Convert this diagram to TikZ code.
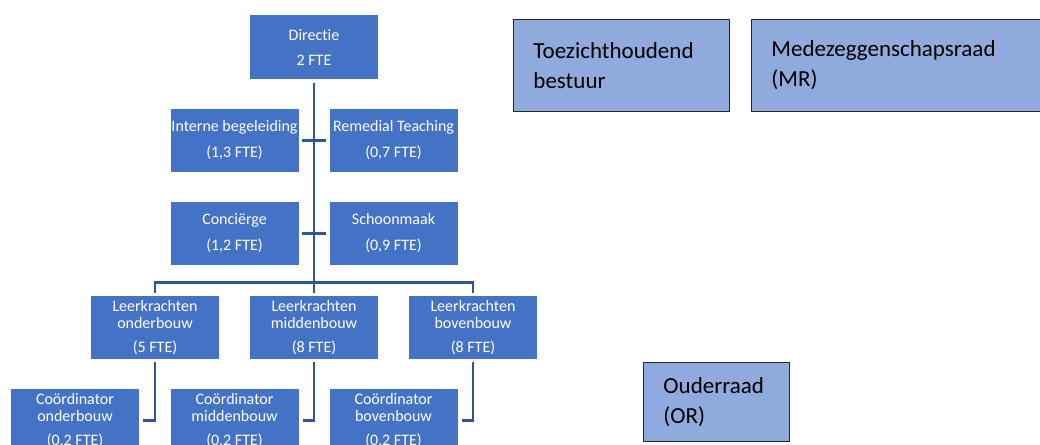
\documentclass[tikz,border=0pt]{standalone}
\usepackage{fontspec}
\setmainfont{Carlito}[Ligatures=NoCommon]
\usetikzlibrary{positioning, calc}
\definecolor{cOrgFill}{RGB}{68, 114, 196}
\definecolor{cRaadFill}{RGB}{143, 170, 220}
\definecolor{cLine}{RGB}{47, 85, 151}
\tikzset{
    orgBox/.style={
        rectangle, fill=cOrgFill, text=white,
        minimum width=128pt, minimum height=63pt,
        inner sep=0pt, align=center,
        font=\fontsize{16}{17}\selectfont
    },
    raadBox/.style={
        rectangle, draw=black!85, line width=0.9pt, fill=cRaadFill,
        anchor=north west, align=left,
        inner xsep=20pt, inner ysep=0pt,
        font=\fontsize{23}{30}\selectfont
    },
    conn/.style={
        draw=cLine, line width=2.8pt
    }
}
\newcommand{\fte}[1]{\\[7pt](#1 FTE)}

\begin{document}
\begin{tikzpicture}[x=1pt, y=-1pt]
    \useasboundingbox (0,0) rectangle (1040,444);

    % directie en staf
    \node [orgBox] (dir) at (314,47) {Directie\\[8pt]2 FTE};
    \node [orgBox] (ib) at (234.5,140.5) {Interne begeleiding\\[9pt](1,3 FTE)};
    \node [orgBox] (rt) at (393.5,140.5) {Remedial Teaching\\[9pt](0,7 FTE)};
    \node [orgBox] (con) at (234.5,233.5) {Conciërge\\[9pt](1,2 FTE)};
    \node [orgBox] (schoon) at (393.5,233.5) {Schoonmaak\\[9pt](0,9 FTE)};

    % leerkrachten
    \node [orgBox] (lko) at (155,327.5) {Leerkrachten\\onderbouw\fte{5}};
    \node [orgBox] (lkm) at (314,327.5) {Leerkrachten\\middenbouw\fte{8}};
    \node [orgBox] (lkb) at (473,327.5) {Leerkrachten\\bovenbouw\fte{8}};

    % coordinatoren
    \node [orgBox] (co) at (75,420.5) {Coördinator\\onderbouw\fte{0,2}};
    \node [orgBox] (cm) at (234.5,420.5) {Coördinator\\middenbouw\fte{0,2}};
    \node [orgBox] (cb) at (393.5,420.5) {Coördinator\\bovenbouw\fte{0,2}};

    % raden
    \node [raadBox, text width=176pt, minimum height=92pt] (tb) at (513,19)
        {Toezichthoudend\\bestuur};
    \node [raadBox, text width=259pt, minimum height=92pt] (mr) at (751,19)
        {Medezeggenschapsraad\\(MR)};
    \node [raadBox, text width=106pt, minimum height=79pt] (or) at (643,362)
        {Ouderraad\\(OR)};

    % lijnen
    \coordinate (hub) at ($(lkm.north)+(0,-13)$);
    \draw [conn] ([yshift=-4pt]dir.south) -- (hub);
    \draw [conn] ([xshift=3pt]ib.east) -- ([xshift=-3pt]rt.west);
    \draw [conn] ([xshift=3pt]con.east) -- ([xshift=-3pt]schoon.west);
    \draw [conn] ([yshift=3pt]lko.north) |- (hub) -| ([yshift=3pt]lkb.north);
    \draw [conn] (hub) -- ([yshift=3pt]lkm.north);
    \draw [conn] ([yshift=-3pt]lko.south) |- ([xshift=4pt]co.east);
    \draw [conn] ([yshift=-3pt]lkm.south) |- ([xshift=4pt]cm.east);
    \draw [conn] ([yshift=-3pt]lkb.south) |- ([xshift=4pt]cb.east);
\end{tikzpicture}
\end{document}
